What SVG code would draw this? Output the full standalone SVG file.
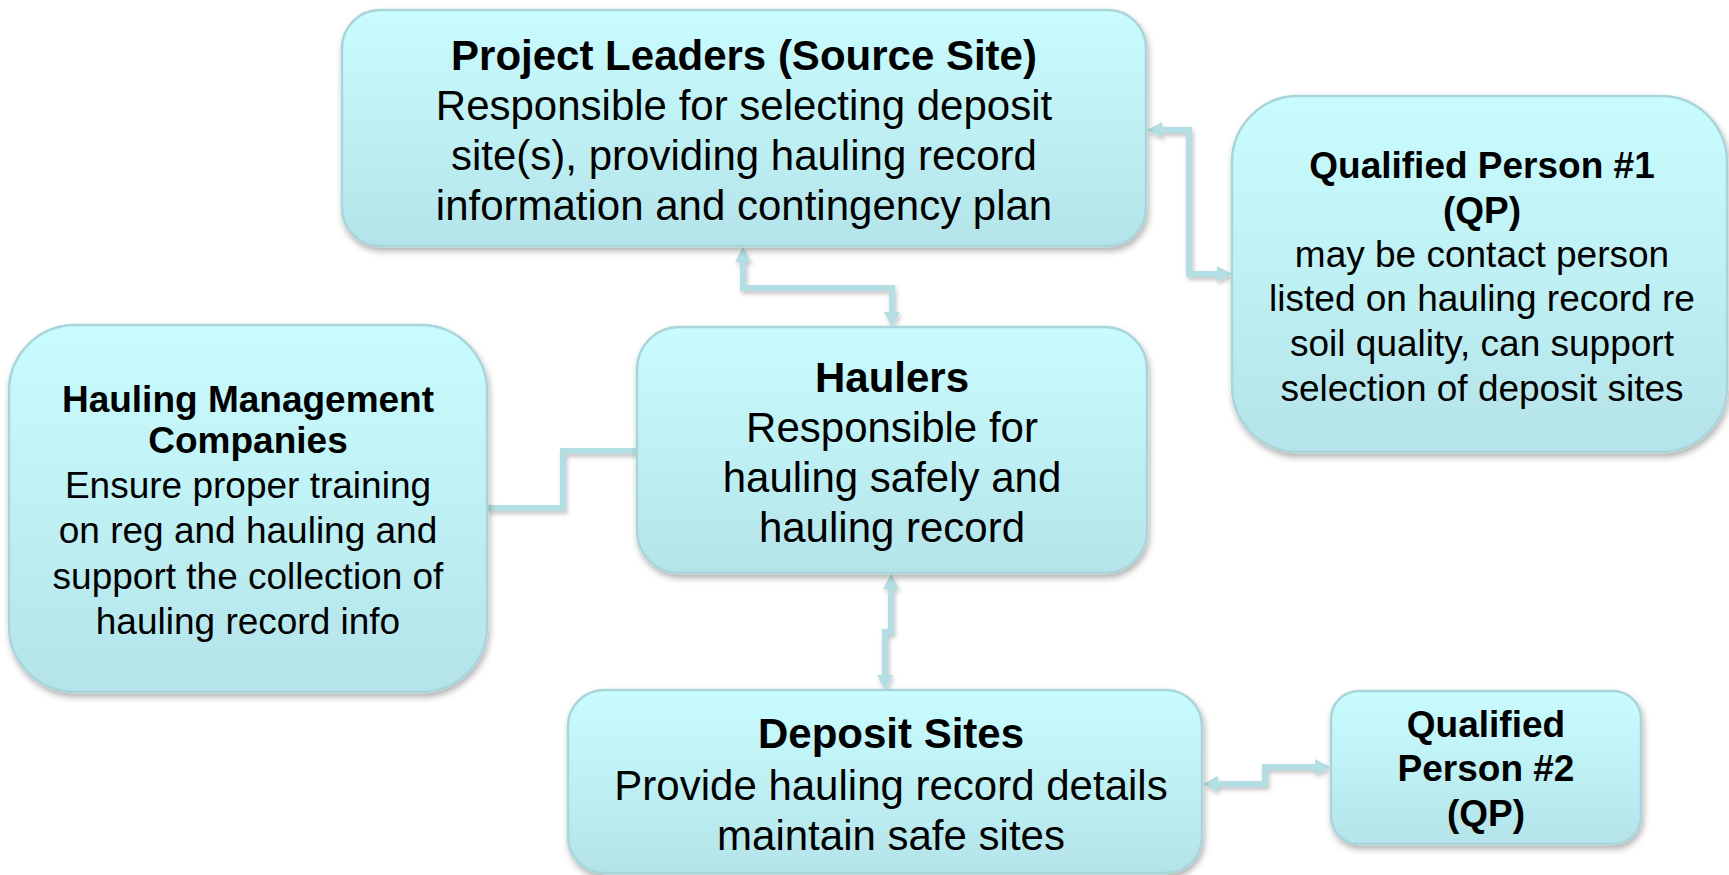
<svg xmlns="http://www.w3.org/2000/svg" width="1729" height="875" viewBox="0 0 1729 875">
  <defs>
    <linearGradient id="boxFill" x1="0" y1="0" x2="0" y2="1">
      <stop offset="0" stop-color="#c9fcff"/>
      <stop offset="1" stop-color="#b4e4e9"/>
    </linearGradient>
    <filter id="shadow" x="-10%" y="-10%" width="120%" height="130%">
      <feDropShadow dx="1.5" dy="4" stdDeviation="3" flood-color="#000" flood-opacity="0.3"/>
    </filter>
    <filter id="lineShadow" x="-20%" y="-20%" width="140%" height="140%">
      <feDropShadow dx="1.5" dy="3" stdDeviation="2" flood-color="#000" flood-opacity="0.22"/>
    </filter>
    <marker id="arrow" viewBox="0 0 15 16" refX="0" refY="8" markerWidth="15" markerHeight="16" markerUnits="userSpaceOnUse" orient="auto-start-reverse">
      <path d="M0,0 L15,8 L0,16 z" fill="#b3dfe4"/>
    </marker>
  </defs>
  <style>
    .box { fill: url(#boxFill); stroke: #a9d5da; stroke-width: 2.5; filter: url(#shadow); }
    .conn { fill: none; stroke: #b3dfe4; stroke-width: 6; stroke-linejoin: miter; }
    .t { font-family: "Liberation Sans", Arial, Helvetica, sans-serif; fill: #000; text-anchor: middle; }
    .big { font-size: 42px; }
    .small { font-size: 37px; }
    .b { font-weight: bold; }
  </style>
  <rect width="1729" height="875" fill="#ffffff"/>

  <g id="connectors" filter="url(#lineShadow)">
    <path class="conn" d="M743,262 L743,288 L892,288 L892,312" marker-start="url(#arrow)" marker-end="url(#arrow)"/>
    <path class="conn" d="M1162,130 L1189,130 L1189,274 L1217,274" marker-start="url(#arrow)" marker-end="url(#arrow)"/>
    <path class="conn" d="M487,508 L563,508 L563,451 L637,451"/>
    <path class="conn" d="M891,589 L891,632 L885,632 L885,675" marker-start="url(#arrow)" marker-end="url(#arrow)"/>
    <path class="conn" d="M1218,784 L1265,784 L1265,767 L1315,767" marker-start="url(#arrow)" marker-end="url(#arrow)"/>
  </g>

  <g id="project-leaders">
    <rect class="box" x="342" y="10" width="804" height="236" rx="38" ry="38"/>
    <text class="t big b" x="744" y="70">Project Leaders (Source Site)</text>
    <text class="t big" x="744" y="120">Responsible for selecting deposit</text>
    <text class="t big" x="744" y="170">site(s), providing hauling record</text>
    <text class="t big" x="744" y="220">information and contingency plan</text>
  </g>

  <g id="qualified-person-1">
    <rect class="box" x="1232" y="96" width="495" height="356" rx="66" ry="66"/>
    <text class="t small b" x="1482" y="178">Qualified Person #1</text>
    <text class="t small b" x="1482" y="223">(QP)</text>
    <text class="t small" x="1482" y="267">may be contact person</text>
    <text class="t small" x="1482" y="311">listed on hauling record re</text>
    <text class="t small" x="1482" y="356">soil quality, can support</text>
    <text class="t small" x="1482" y="401">selection of deposit sites</text>
  </g>

  <g id="hauling-management">
    <rect class="box" x="9" y="325" width="478" height="367" rx="66" ry="66"/>
    <text class="t small b" x="248" y="412">Hauling Management</text>
    <text class="t small b" x="248" y="453">Companies</text>
    <text class="t small" x="248" y="498">Ensure proper training</text>
    <text class="t small" x="248" y="543">on reg and hauling and</text>
    <text class="t small" x="248" y="589">support the collection of</text>
    <text class="t small" x="248" y="634">hauling record info</text>
  </g>

  <g id="haulers">
    <rect class="box" x="637" y="327" width="510" height="246" rx="42" ry="42"/>
    <text class="t big b" x="892" y="392">Haulers</text>
    <text class="t big" x="892" y="442">Responsible for</text>
    <text class="t big" x="892" y="492">hauling safely and</text>
    <text class="t big" x="892" y="542">hauling record</text>
  </g>

  <g id="deposit-sites">
    <rect class="box" x="568" y="690" width="634" height="183" rx="36" ry="36"/>
    <text class="t big b" x="891" y="748">Deposit Sites</text>
    <text class="t big" x="891" y="800">Provide hauling record details</text>
    <text class="t big" x="891" y="850">maintain safe sites</text>
  </g>

  <g id="qualified-person-2">
    <rect class="box" x="1331" y="691" width="310" height="153" rx="28" ry="28"/>
    <text class="t small b" x="1486" y="737">Qualified</text>
    <text class="t small b" x="1486" y="781">Person #2</text>
    <text class="t small b" x="1486" y="826">(QP)</text>
  </g>
</svg>
